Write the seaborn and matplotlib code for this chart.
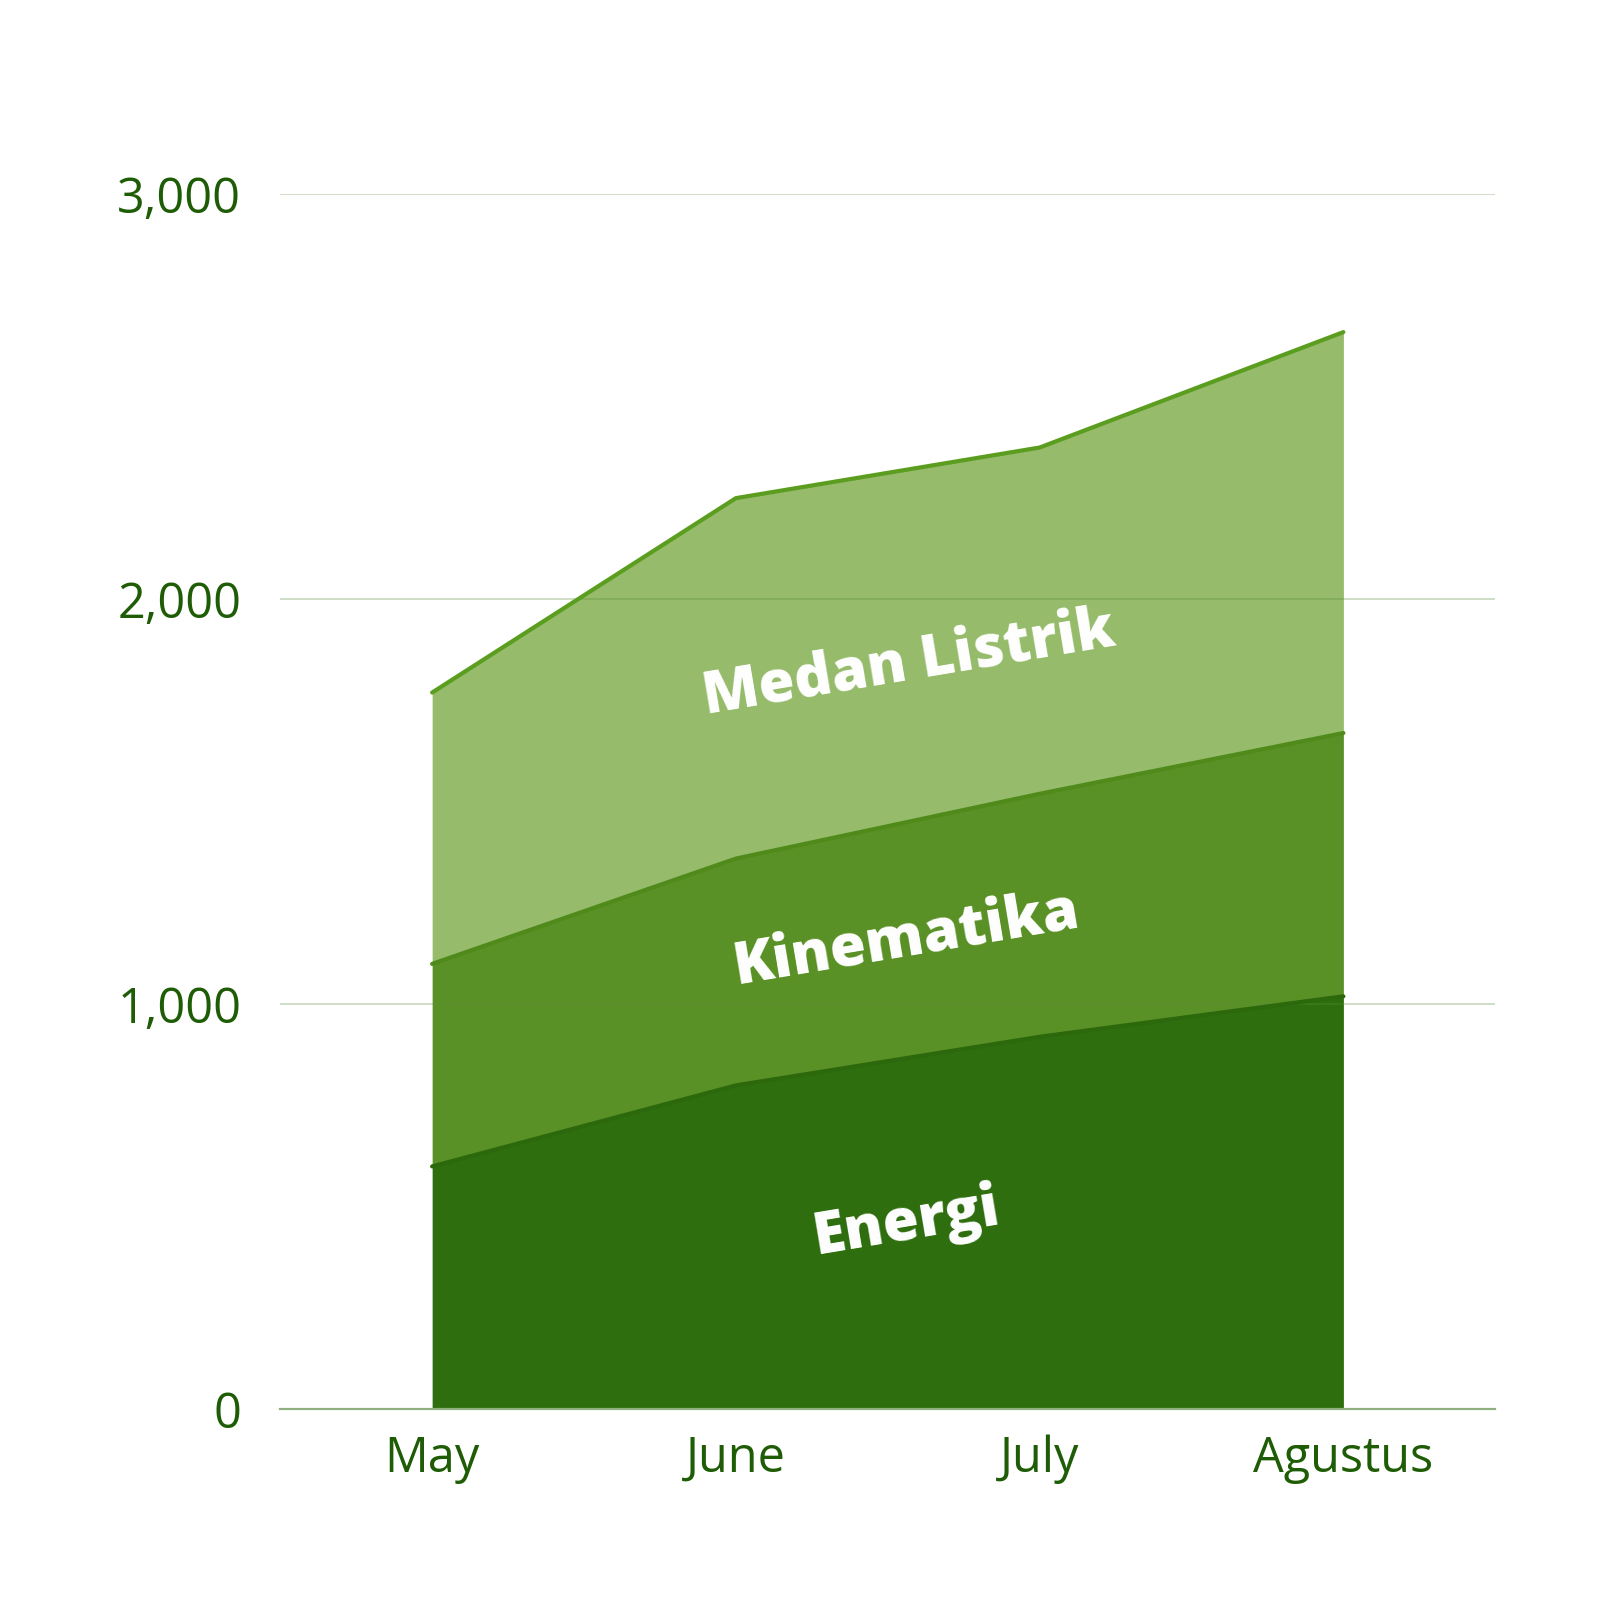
import pandas as pd
import numpy as np
import matplotlib
matplotlib.use("Agg")
import matplotlib.pyplot as plt
import seaborn as sns

months = ["May", "June", "July", "Agustus"]
energi = [600, 800, 920, 1020]
kinematika = [500, 560, 600, 650]
medan_listrik = [670, 890, 855, 990]
y_ticks = [0, 1000, 2000, 3000]
y_tick_labels = ["0", "1,000", "2,000", "3,000"]

sns.set_style("white")
plt.rcParams["font.family"] = ["Open Sans", "DejaVu Sans"]

x = np.arange(len(months))
layer1 = np.array(energi)
layer2 = layer1 + np.array(kinematika)
layer3 = layer2 + np.array(medan_listrik)

df = pd.DataFrame({"x": np.tile(x, 3),
                   "top": np.concatenate([layer1, layer2, layer3]),
                   "layer": ["Energi"] * 4 + ["Kinematika"] * 4 + ["Medan Listrik"] * 4})

fig = plt.figure(figsize=(16.2, 16.2), dpi=100)
ax = fig.add_axes([0.173, 0.130, 0.750, 0.750])

ax.fill_between(x, 0, layer1, color="#2e6e0e", linewidth=0, zorder=2)
ax.fill_between(x, layer1, layer2, color="#5a9126", linewidth=0, zorder=2)
ax.fill_between(x, layer2, layer3, color="#95bb6b", linewidth=0, zorder=2)

sns.lineplot(data=df, x="x", y="top", hue="layer", ax=ax, legend=False,
             palette={"Energi": "#2c680c", "Kinematika": "#4f8a1a", "Medan Listrik": "#5b9e1f"},
             linewidth=3, zorder=3)

ax.set_xlim(-0.5, 3.5)
ax.set_ylim(0, 3000)
ax.set_yticks(y_ticks)
ax.set_yticklabels(y_tick_labels)
ax.set_xticks(x)
ax.set_xticklabels(months)
ax.set_xlabel("")
ax.set_ylabel("")
ax.tick_params(axis="both", length=0, labelsize=35, labelcolor="#1e5c06")
ax.tick_params(axis="y", pad=28)
ax.tick_params(axis="x", pad=18)
# faint green grid drawn over the areas, like the original
ax.grid(axis="y", color="#5a8c3c", alpha=0.29, linewidth=1.4)
ax.set_axisbelow(False)
for gl in ax.get_ygridlines():
    gl.set_zorder(2.5)
for s in ["top", "right", "left"]:
    ax.spines[s].set_visible(False)
ax.spines["bottom"].set_color("#8fb07f")
ax.spines["bottom"].set_linewidth(1.6)
ax.spines["bottom"].set_zorder(4)

label_kw = dict(ha="center", va="center", rotation=9.5, rotation_mode="anchor",
                color="white", fontsize=42, fontweight="heavy", zorder=5)
ax.text(1.57, 1840, "Medan Listrik", **label_kw)
ax.text(1.56, 1160, "Kinematika", **label_kw)
ax.text(1.56, 460, "Energi", **label_kw)

fig.savefig("out.png", dpi=100)
